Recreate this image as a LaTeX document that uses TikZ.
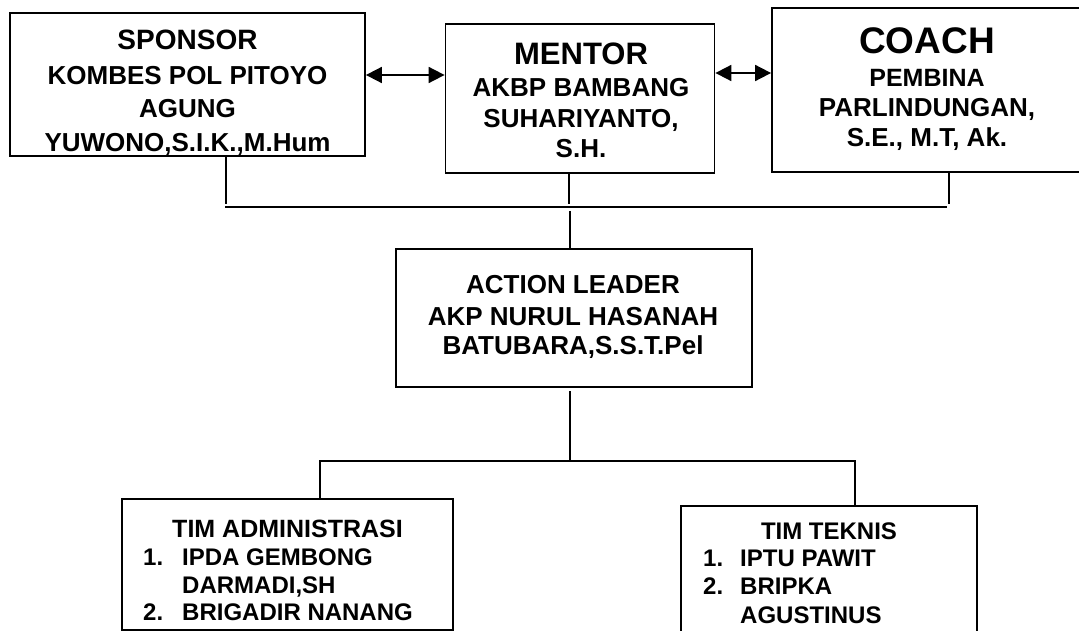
\documentclass[tikz,border=0pt]{standalone}
\usepackage{fontspec}
\setmainfont{Liberation Sans}
\usetikzlibrary{arrows.meta}
\newcommand{\fs}[1]{\fontsize{#1}{#1}\selectfont}
\begin{document}
\begin{tikzpicture}[x=1pt,y=-1pt,
  box/.style={draw, line width=1.8pt, inner sep=0pt, fill=white},
  txt/.style={inner sep=0pt, anchor=base, font=\bfseries\fs{26}},
  itm/.style={inner sep=0pt, anchor=base west, font=\bfseries\fs{24}},
  conn/.style={line width=1.3pt},
  bus/.style={line width=2.4pt},
  dbl/.style={line width=1.8pt, {Triangle[length=16pt,width=16pt]}-{Triangle[length=16pt,width=16pt]}}]
\useasboundingbox (0,0) rectangle (1079,631);
\clip (0,0) rectangle (1079,631);
\fill[white] (0,0) rectangle (1079,631);

% boxes
\node[box, minimum width=355pt, minimum height=143pt] (sponsor) at (187.5,84.5) {};
\node[box, minimum width=269pt, minimum height=149pt] (mentor) at (580,98.5) {};
\node[box, minimum width=311pt, minimum height=164pt] (coach) at (927.5,90) {};
\node[box, minimum width=356pt, minimum height=138pt] (action) at (574,318) {};
\node[box, minimum width=331pt, minimum height=131pt] (admin) at (287.5,564.5) {};
\node[box, minimum width=296pt, minimum height=154pt] (teknis) at (829,583) {};

% sponsor text
\node[txt, font=\bfseries\fs{28}] (s1) at (187.5,50) {SPONSOR};
\node[txt] (s2) at (187.5,85) {KOMBES POL PITOYO};
\node[txt] (s3) at (187.5,118) {AGUNG};
\node[txt] (s4) at (187.5,152) {YUWONO,S.I.K.,M.Hum};

% mentor text
\node[txt, font=\bfseries\fs{31}] (m1) at (581,65) {MENTOR};
\node[txt] (m2) at (581,97) {AKBP BAMBANG};
\node[txt] (m3) at (581,128) {SUHARIYANTO,};
\node[txt] (m4) at (581,158) {S.H.};

% coach text
\node[txt, font=\bfseries\fs{37}] (k1) at (927,54) {COACH};
\node[txt, font=\bfseries\fs{25}] (k2) at (927,87) {PEMBINA};
\node[txt] (k3) at (927,117) {PARLINDUNGAN,};
\node[txt] (k4) at (927,147) {S.E., M.T, Ak.};

% action leader text
\node[txt] (a1) at (573,293) {ACTION LEADER};
\node[txt] (a2) at (573,325) {AKP NURUL HASANAH};
\node[txt] (a3) at (573,354) {BATUBARA,S.S.T.Pel};

% admin text
\node[txt, font=\bfseries\fs{25}] (t1) at (287.5,537) {TIM ADMINISTRASI};
\node[itm] (t2n) at (143,565) {1.};
\node[itm] (t2) at (182,565) {IPDA GEMBONG};
\node[itm] (t3) at (182,593) {DARMADI,SH};
\node[itm] (t4n) at (143,620) {2.};
\node[itm] (t4) at (182,620) {BRIGADIR NANANG};

% teknis text
\node[txt, font=\bfseries\fs{24}] (e1) at (829,539) {TIM TEKNIS};
\node[itm] (e2n) at (703,566) {1.};
\node[itm] (e2) at (740,566) {IPTU PAWIT};
\node[itm] (e3n) at (703,594) {2.};
\node[itm] (e3) at (740,594) {BRIPKA};
\node[itm] (e4) at (740,623) {AGUSTINUS};

% arrows
\coordinate (y1) at (0,75);
\coordinate (y2) at (0,73);
\draw[dbl] (y1 -| sponsor.east) -- (y1 -| mentor.west);
\draw[dbl] (y2 -| mentor.east) -- (y2 -| coach.west);

% upper connectors
\coordinate (c1) at (226,204);
\coordinate (c2) at (569,204);
\coordinate (c3) at (949,204);
\draw[conn] (sponsor.south -| c1) -- (c1);
\draw[conn] (mentor.south -| c2) -- (c2);
\draw[conn] (coach.south -| c3) -- (c3);
\coordinate (bl) at (225,207);
\coordinate (br) at (947,207);
\draw[bus] (bl) -- (br);
\coordinate (c4) at (570,211);
\draw[conn] (c4) -- (action.north -| c4);

% lower connectors
\coordinate (c5) at (570,391);
\coordinate (c6) at (570,461);
\draw[conn] (c5) -- (c6);
\coordinate (d1) at (320,461);
\coordinate (d2) at (855,461);
\draw[conn] (admin.north -| d1) -- (d1) -- (d2) -- (teknis.north -| d2);
\end{tikzpicture}
\end{document}
